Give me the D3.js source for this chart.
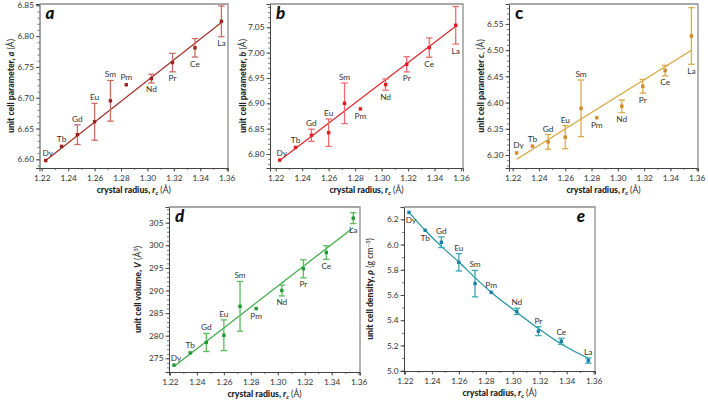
<!DOCTYPE html>
<html><head><meta charset="utf-8">
<script src="https://cdn.jsdelivr.net/npm/d3@7"></script>
<style>
html,body{margin:0;padding:0;background:#fff;}
svg{display:block;font-family:Lato,"Open Sans",sans-serif;}
</style></head>
<body><svg id="chart" width="708" height="404"></svg>
<script>
// ---------- data ----------
const elements = ["Dy","Tb","Gd","Eu","Sm","Pm","Nd","Pr","Ce","La"];
const radius   = [1.223,1.235,1.247,1.260,1.272,1.284,1.303,1.319,1.336,1.356];

const aValues = [6.598,6.621,6.640,6.661,6.695,6.721,6.731,6.757,6.781,6.824];
const aErr    = [0,0,0.016,0.030,0.033,0,0.007,0.015,0.015,0.025];
const aFit    = [6.598,6.822];

const bValues = [6.788,6.813,6.837,6.842,6.900,6.889,6.937,6.977,7.010,7.054];
const bErr    = [0,0,0.012,0.027,0.040,0,0.011,0.015,0.019,0.037];
const bFit    = [6.787,7.052];

const cValues = [6.304,6.317,6.325,6.334,6.389,6.371,6.393,6.431,6.461,6.527];
const cErr    = [0,0,0.014,0.022,0.054,0,0.012,0.013,0.010,0.054];
const cFit    = [6.292,6.500];

const dValues = [273.5,276.2,278.5,280.1,286.5,286.0,290.0,294.8,298.4,306.0];
const dErr    = [0,0,2.0,3.4,5.5,0,1.2,2.0,1.5,1.2];
const dFit    = [273.2,303.9];

const eValues = [6.255,6.113,6.018,5.859,5.690,5.621,5.470,5.313,5.233,5.080];
const eErr    = [0,0,0.042,0.069,0.105,0,0.025,0.035,0.024,0.020];
const eFit    = [6.255,6.113,5.985,5.862,5.738,5.622,5.463,5.335,5.212,5.098];

const fitLineX = [1.223,1.356];

const xTicks  = [1.22,1.24,1.26,1.28,1.30,1.32,1.34,1.36];
const aTicks  = [6.60,6.65,6.70,6.75,6.80,6.85];
const bTicks  = [6.80,6.85,6.90,6.95,7.00,7.05];
const cTicks  = [6.30,6.35,6.40,6.45,6.50,6.55];
const dTicks  = [275,280,285,290,295,300,305];
const eTicks  = [5.0,5.2,5.4,5.6,5.8,6.0,6.2];

// label placement: u = above, d = below
const aPlace = ["u","u","u","u","u","u","d","d","d","d"];
const bPlace = ["u","u","u","u","u","d","d","d","d","d"];
const cPlace = ["u","u","u","u","u","d","d","d","d","d"];
const dPlace = ["u","u","u","u","u","d","d","d","d","d"];
const ePlace = ["d","d","u","u","u","u","u","u","u","u"];

// ---------- layout ----------
const panels = [
  {letter:"a", italic:true, letterPos:"left", frame:[39.5,4,228,168], xDom:[1.2183,1.361], yDom:[6.5859,6.8521],
   values:aValues, err:aErr, fitX:fitLineX, fitY:aFit, yTicks:aTicks, yMinor:0.01, fmt:".2f", place:aPlace,
   color:"#a1221d", errColor:"#cc6a64", lineColor:"#a3302a",
   title:[["unit cell parameter, ","900",""],["a","900","italic"],[" (Å)","normal",""]], titleX:14},
  {letter:"b", italic:true, letterPos:"left", frame:[270,4,463,168], xDom:[1.2157,1.3615], yDom:[6.7724,7.096],
   values:bValues, err:bErr, fitX:fitLineX, fitY:bFit, yTicks:bTicks, yMinor:0.01, fmt:".2f", place:bPlace,
   color:"#e3191f", errColor:"#ec6b6b", lineColor:"#e3262b",
   title:[["unit cell parameter, ","900",""],["b","900","italic"],[" (Å)","normal",""]], titleX:246},
  {letter:"c", italic:false, letterPos:"left", frame:[509,4,698,168], xDom:[1.2172,1.361], yDom:[6.2752,6.588],
   values:cValues, err:cErr, fitX:fitLineX, fitY:cFit, yTicks:cTicks, yMinor:0.01, fmt:".2f", place:cPlace,
   color:"#cf8a2c", errColor:"#ddaa4a", lineColor:"#d8a43c",
   title:[["unit cell parameter ","900",""],["c","900","italic"],[", (Å)","normal",""]], titleX:484},
  {letter:"d", italic:true, letterPos:"left", frame:[169,207,360,372], xDom:[1.2193,1.361], yDom:[271.97,308.47],
   values:dValues, err:dErr, fitX:fitLineX, fitY:dFit, yTicks:dTicks, yMinor:1, fmt:"d", place:dPlace,
   color:"#1f9a35", errColor:"#5cbd5c", lineColor:"#3aaa44",
   title:[["unit cell volume, ","900",""],["V","900","italic"],[" (Å","normal",""],["3","normal","","sup"],[")","normal",""]], titleX:141},
  {letter:"e", italic:true, letterPos:"right", frame:[404,207,595,371], xDom:[1.2193,1.361], yDom:[4.9976,6.2975],
   values:eValues, err:eErr, fitX:radius, fitY:eFit, yTicks:eTicks, yMinor:0.1, fmt:".1f", place:ePlace, curve:true,
   color:"#1a80a3", errColor:"#3aaab0", lineColor:"#1f93a3",
   title:[["unit cell density, ","900",""],["ρ","900","italic"],[" (g cm","normal",""],["−3","normal","","sup"],[")","normal",""]], titleX:373}
];

const svg = d3.select("#chart");

panels.forEach(p => {
  const [x0,y0,x1,y1] = p.frame;
  const x = d3.scaleLinear().domain(p.xDom).range([x0,x1]);
  const y = d3.scaleLinear().domain(p.yDom).range([y1,y0]);
  const g = svg.append("g");

  // minor ticks
  const xMinor = d3.range(1.22, 1.3605, 0.01);
  const yMin = d3.range(Math.ceil(p.yDom[0]/p.yMinor)*p.yMinor, p.yDom[1], p.yMinor);
  g.append("g").attr("transform",`translate(${x0},0)`)
    .call(d3.axisLeft(y).tickValues(yMin).tickSize(2).tickFormat(""))
    .call(s=>{s.select(".domain").remove(); s.selectAll("line").attr("stroke","#555").attr("stroke-width",0.8);});
  g.append("g").attr("transform",`translate(0,${y1})`)
    .call(d3.axisBottom(x).tickValues(xMinor).tickSize(2).tickFormat(""))
    .call(s=>{s.select(".domain").remove(); s.selectAll("line").attr("stroke","#555").attr("stroke-width",0.8);});

  // major axes
  const yAx = g.append("g").attr("transform",`translate(${x0},0)`)
    .call(d3.axisLeft(y).tickValues(p.yTicks).tickSize(3.5).tickPadding(2).tickFormat(d3.format(p.fmt)));
  const xAx = g.append("g").attr("transform",`translate(0,${y1})`)
    .call(d3.axisBottom(x).tickValues(xTicks).tickSize(3.5).tickPadding(4).tickFormat(d3.format(".2f")));
  [yAx,xAx].forEach(a=>{
    a.select(".domain").attr("stroke","#444").attr("stroke-width",1);
    a.selectAll(".tick line").attr("stroke","#444").attr("stroke-width",0.9);
    a.selectAll(".tick text").attr("fill","#333").style("font-size","8.3px").style("font-family","Lato,sans-serif");
  });
  // top/right frame
  g.append("path").attr("d",`M${x0},${y0}H${x1}V${y1}`).attr("fill","none").attr("stroke","#8c8c8c").attr("stroke-width",1.3);

  // fit line
  const lineData = p.fitX.map((v,i)=>[v,p.fitY[i]]);
  const line = d3.line().x(d=>x(d[0])).y(d=>y(d[1]));
  if (p.curve) line.curve(d3.curveMonotoneX);
  g.append("path").datum(lineData).attr("d",line).attr("fill","none")
    .attr("stroke",p.lineColor).attr("stroke-width",1.2);

  const pts = elements.map((el,i)=>({el, r:radius[i], v:p.values[i], e:p.err[i], pl:p.place[i]}));
  // error bars
  const eb = g.append("g").attr("stroke",p.errColor).attr("stroke-width",1.3).attr("fill","none");
  pts.filter(d=>d.e>0).forEach(d=>{
    const cx = x(d.r), yt = y(d.v+d.e), yb = y(d.v-d.e);
    eb.append("line").attr("x1",cx).attr("x2",cx).attr("y1",yt).attr("y2",yb);
    eb.append("line").attr("x1",cx-3.2).attr("x2",cx+3.2).attr("y1",yt).attr("y2",yt);
    eb.append("line").attr("x1",cx-3.2).attr("x2",cx+3.2).attr("y1",yb).attr("y2",yb);
  });
  // points
  g.selectAll("rect.pt").data(pts).join("rect").attr("class","pt")
    .attr("x",d=>x(d.r)-1.7).attr("y",d=>y(d.v)-1.7).attr("width",3.4).attr("height",3.4)
    .attr("fill",p.color);
  // labels
  g.selectAll("text.lbl").data(pts).join("text").attr("class","lbl")
    .attr("x",d=>x(d.r)+(d.el==="Dy"?2:0))
    .attr("y",d=> d.pl==="u" ? y(d.v+d.e)-(d.e>0?3:4.5) : y(d.v-d.e)+(d.e>0?9.5:10.5))
    .attr("text-anchor","middle").attr("fill","#333")
    .style("font-size","8.3px").text(d=>d.el);

  // panel letter
  g.append("text")
    .attr("x", p.letterPos==="left" ? x0+6 : x1-10)
    .attr("y", y0+15)
    .attr("text-anchor", p.letterPos==="left" ? "start":"end")
    .style("font-size","17px").style("font-weight","900")
    .style("font-style", p.italic?"italic":"normal")
    .attr("fill","#111").text(p.letter);

  // y title
  const yt = g.append("text").attr("transform",`translate(${p.titleX},${(y0+y1)/2}) rotate(-90)`)
    .attr("text-anchor","middle").attr("fill","#222").style("font-size","8.7px");
  p.title.forEach(t=>{
    const ts = yt.append("tspan").text(t[0]).style("font-weight",t[1]).style("font-style",t[2]||"normal");
    if (t[3]==="sup") ts.attr("dy","-3").style("font-size","6px");
    else if (t[0]===")") ts.attr("dy","3");
  });

  // x title
  const xt = g.append("text").attr("x",(x0+x1)/2).attr("y",y1+25)
    .attr("text-anchor","middle").attr("fill","#222").style("font-size","8.7px");
  xt.append("tspan").text("crystal radius, ").style("font-weight","900");
  xt.append("tspan").text("r").style("font-weight","900").style("font-style","italic");
  xt.append("tspan").text("c").style("font-weight","900").style("font-style","italic").style("font-size","6px").attr("dy","1.5");
  xt.append("tspan").text(" (Å)").style("font-weight","normal").attr("dy","-1.5");
});
</script></body></html>
